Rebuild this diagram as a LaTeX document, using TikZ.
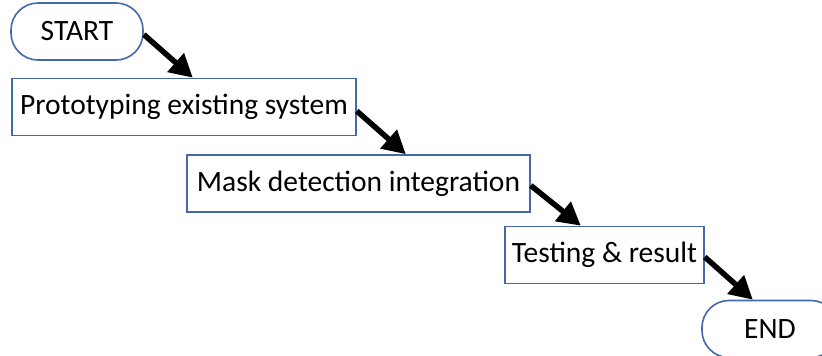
\documentclass[tikz,border=0pt]{standalone}
\usepackage{fontspec}
\setmainfont{Carlito}
\usetikzlibrary{arrows.meta}
\definecolor{boxblue}{RGB}{68,104,170}

\begin{document}
\begin{tikzpicture}[x=1pt,y=-1pt,
		stepbox/.style={draw=boxblue, line width=1.6pt, minimum height=57pt, inner sep=0pt, font=\fontsize{29.5}{34}\selectfont},
		endpoint/.style={stepbox, rounded corners=27pt},
		flow/.style={line width=5.5pt, -{Triangle[length=23pt,width=24pt]}}]
		\useasboundingbox (0,0) rectangle (822,356);
		\node[endpoint, minimum width=132pt] (start) at (77,31.5) {START};
		\node[stepbox, minimum width=344pt] (proto) at (184,107) {Prototyping existing system};
		\node[stepbox, minimum width=343pt] (mask) at (358.5,183.5) {Mask detection integration};
		\node[stepbox, minimum width=199pt] (test) at (604.5,255) {Testing \& result};
		\node[endpoint, minimum width=136pt] (end) at (770,329) {END};

		\draw[flow] ([yshift=-3pt]start.east) -- ([xshift=49pt]start.east |- proto.north);
		\draw[flow] ([yshift=-4pt]proto.east) -- ([xshift=49pt]proto.east |- mask.north);
		\draw[flow] ([yshift=-2pt]mask.east) -- ([xshift=50pt]mask.east |- test.north);
		\draw[flow] ([yshift=-2pt]test.east) -- ([xshift=48pt]test.east |- end.north);
	\end{tikzpicture}
\end{document}
